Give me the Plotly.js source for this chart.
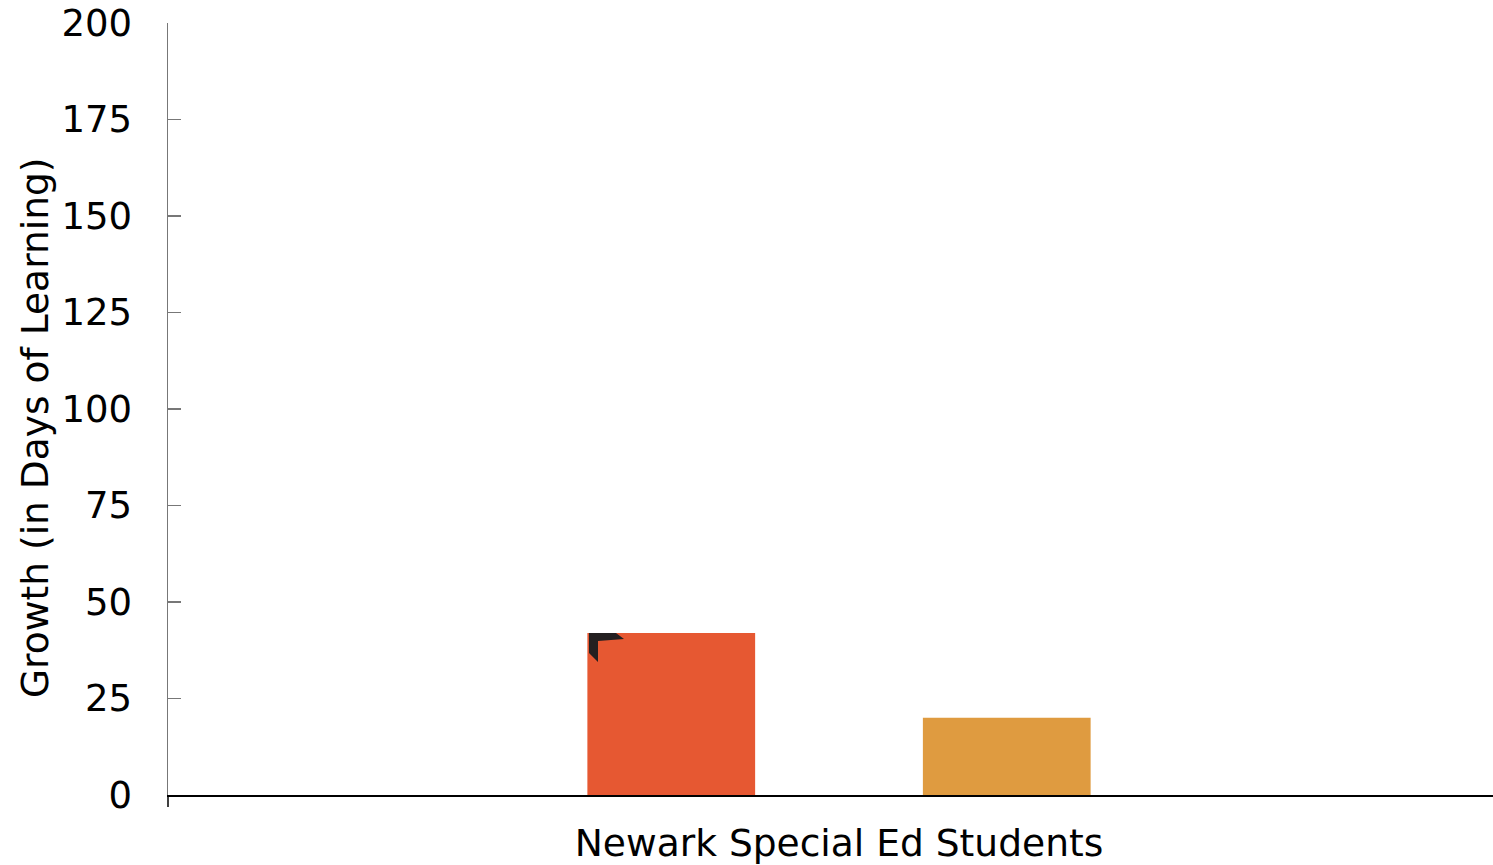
<!DOCTYPE html>
<html>
<head>
<meta charset="utf-8">
<script src="https://cdn.plot.ly/plotly-3.0.1.min.js"></script>
<style>
  html, body { margin: 0; padding: 0; background: #fff; overflow: hidden; }
  #chart { width: 1510px; height: 865px; }
</style>
</head>
<body>
<div id="chart"></div>
<script>
// Growth in days of learning
const categories = ["Newark Special Ed Students"];
const seriesA = [42];   // first bar
const seriesB = [20];   // second bar
const yTicks = [0, 25, 50, 75, 100, 125, 150, 175, 200];

const family = "DejaVu Sans, Verdana, sans-serif";
const tickFont = { family: family, size: 37, color: "#000" };
const titleFont = { family: family, size: 37.6, color: "#000" };

const traces = [
  { type: "bar", x: categories, y: seriesA, marker: { color: "#E65832" }, hoverinfo: "none", showlegend: false },
  { type: "bar", x: categories, y: seriesB, marker: { color: "#DF9B40" }, hoverinfo: "none", showlegend: false }
];

const layout = {
  width: 1510,
  height: 865,
  margin: { l: 168, r: 0, t: 23, b: 70, pad: 0 },
  paper_bgcolor: "#fff",
  plot_bgcolor: "#fff",
  font: tickFont,
  barmode: "group",
  bargap: 0.5,
  bargroupgap: 0.5,
  xaxis: {
    type: "category",
    showline: true, linecolor: "#000", linewidth: 2,
    ticks: "", showgrid: false, zeroline: false,
    tickfont: titleFont, ticklabelstandoff: 14, fixedrange: true
  },
  yaxis: {
    range: [0, 200],
    tickmode: "array", tickvals: yTicks, ticktext: yTicks.map(String),
    ticks: "inside", ticklen: 13, tickwidth: 1.5, tickcolor: "#777",
    showline: true, linecolor: "#777", linewidth: 1.5,
    showgrid: false, zeroline: false,
    tickfont: tickFont, ticklabelstandoff: 27, fixedrange: true
  },
  annotations: [{
    text: "Growth (in Days of Learning)",
    xref: "paper", yref: "paper",
    x: -0.0991, y: 0.4754, xanchor: "center", yanchor: "middle",
    textangle: -90, showarrow: false, font: titleFont
  }],
  shapes: [
    // category boundary tick below the axis
    { type: "line", xref: "paper", yref: "paper", ysizemode: "pixel", yanchor: 0,
      x0: 0, x1: 0, y0: 0, y1: -12, line: { color: "#000", width: 1.5 } },
    // dark corner marker on the first bar
    { type: "path", xref: "paper", yref: "y", xsizemode: "pixel", ysizemode: "pixel",
      xanchor: 418 / 1342, yanchor: seriesA[0],
      path: "M 3 0 L 30 0 L 38 -6 L 12 -8 L 12 -29 L 3 -20 Z",
      fillcolor: "#231F20", line: { width: 0 } }
  ]
};

Plotly.newPlot("chart", traces, layout, { displayModeBar: false, staticPlot: true });
</script>
</body>
</html>
